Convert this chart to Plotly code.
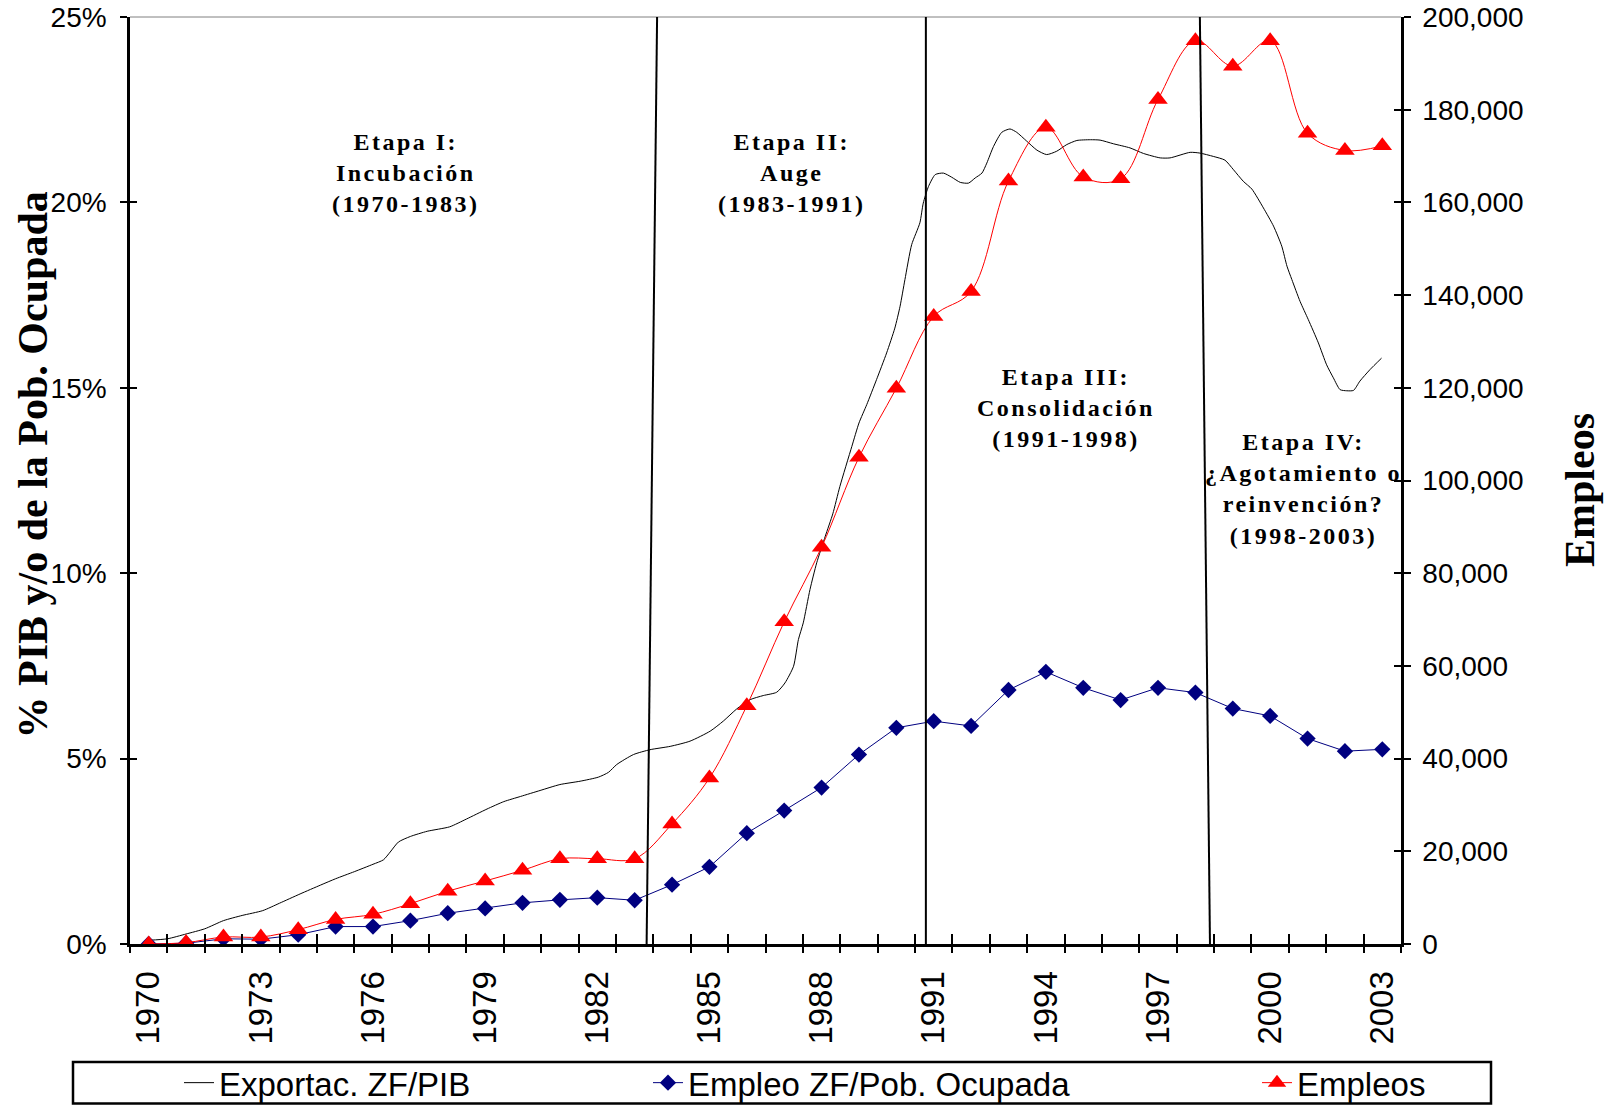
import plotly.graph_objects as go

# ---------------- data ----------------
YEARS = [1970, 1971, 1972, 1973, 1974, 1975, 1976, 1977, 1978, 1979,
         1980, 1981, 1982, 1983, 1984, 1985, 1986, 1987, 1988, 1989,
         1990, 1991, 1992, 1993, 1994, 1995, 1996, 1997, 1998, 1999,
         2000, 2001, 2002, 2003]
TICK_YEARS = [1970, 1973, 1976, 1979, 1982, 1985, 1988, 1991, 1994, 1997, 2000, 2003]

# Empleo ZF / Pob. Ocupada (%), left axis
EMPLEO_PCT = [0.00, 0.02, 0.14, 0.13, 0.25, 0.47, 0.47, 0.63, 0.83, 0.96,
              1.11, 1.19, 1.25, 1.18, 1.60, 2.08, 2.99, 3.60, 4.22, 5.11,
              5.83, 6.01, 5.88, 6.85, 7.34, 6.91, 6.58, 6.91, 6.78, 6.35,
              6.15, 5.54, 5.20, 5.25]

# Empleos (number of jobs), right axis
EMPLEOS = [0, 300, 1500, 1500, 3100, 5300, 6400, 8700, 11400, 13600,
           15900, 18400, 18400, 18400, 25900, 35800, 51400, 69500, 85600, 105000,
           119900, 135400, 140800, 164600, 176200, 165500, 165100, 182200, 194900, 189400,
           194900, 174900, 171200, 172200]

# Exportac. ZF / PIB (%) (time in years)
EXPORT_T = [1970.00, 1970.50, 1971.00, 1971.50, 1972.00, 1972.50, 1973.05, 1973.50, 1974.05, 1974.60,
            1975.00, 1975.50, 1976.00, 1976.28, 1976.46, 1976.68, 1977.00, 1977.45, 1978.05, 1978.50,
            1979.05, 1979.50, 1979.95, 1980.47, 1981.00, 1981.54, 1982.03, 1982.30, 1982.52, 1982.97,
            1983.41, 1983.95, 1984.48, 1985.02, 1985.37, 1985.73, 1986.09, 1986.44, 1986.80, 1987.02,
            1987.25, 1987.38, 1987.51, 1987.69, 1987.87, 1988.10, 1988.30, 1988.49, 1988.81, 1989.00,
            1989.21, 1989.47, 1989.74, 1989.96, 1990.10, 1990.23, 1990.41, 1990.63, 1990.72, 1990.86,
            1991.04, 1991.26, 1991.48, 1991.71, 1991.93, 1992.11, 1992.29, 1992.42, 1992.60, 1992.82,
            1993.04, 1993.22, 1993.49, 1993.76, 1994.02, 1994.29, 1994.56, 1994.83, 1995.19, 1995.45,
            1995.81, 1996.25, 1996.61, 1997.06, 1997.32, 1997.86, 1998.12, 1998.48, 1998.79, 1999.02,
            1999.28, 1999.51, 1999.82, 2000.09, 2000.31, 2000.45, 2000.58, 2000.80, 2001.02, 2001.29,
            2001.51, 2001.69, 2001.87, 2002.05, 2002.23, 2002.40, 2002.67, 2002.98]
EXPORT_PCT = [0.10, 0.14, 0.27, 0.41, 0.63, 0.77, 0.90, 1.10, 1.35, 1.59,
              1.76, 1.95, 2.15, 2.27, 2.48, 2.75, 2.90, 3.04, 3.16, 3.37,
              3.64, 3.84, 3.98, 4.14, 4.30, 4.39, 4.50, 4.63, 4.84, 5.11,
              5.24, 5.33, 5.47, 5.74, 6.01, 6.34, 6.59, 6.70, 6.79, 7.04,
              7.49, 8.21, 8.66, 9.56, 10.28, 11.00, 11.60, 12.34, 13.42, 14.05,
              14.55, 15.22, 15.94, 16.61, 17.20, 17.92, 18.86, 19.45, 19.98, 20.43,
              20.75, 20.79, 20.68, 20.54, 20.52, 20.66, 20.79, 21.06, 21.51, 21.89,
              21.98, 21.89, 21.65, 21.41, 21.29, 21.38, 21.56, 21.67, 21.69, 21.68,
              21.58, 21.47, 21.32, 21.20, 21.20, 21.35, 21.33, 21.24, 21.14, 20.88,
              20.57, 20.36, 19.85, 19.36, 18.82, 18.28, 17.92, 17.33, 16.84, 16.21,
              15.62, 15.27, 14.95, 14.92, 14.93, 15.18, 15.49, 15.80]

SERIES_NAMES = ["Exportac. ZF/PIB", "Empleo ZF/Pob. Ocupada", "Empleos"]

PCT_TICKS = [0, 5, 10, 15, 20, 25]
EMP_TICKS = [0, 20000, 40000, 60000, 80000, 100000, 120000, 140000, 160000, 180000, 200000]

STAGE_TEXT = [
    ["Etapa I:", "Incubación", "(1970-1983)"],
    ["Etapa II:", "Auge", "(1983-1991)"],
    ["Etapa III:", "Consolidación", "(1991-1998)"],
    ["Etapa IV:", "¿Agotamiento o", "reinvención?", "(1998-2003)"],
]
STAGE_X = [1976.86, 1987.20, 1994.55, 2000.90]
STAGE_Y = [20.78, 20.78, 14.46, 12.28]
# stage divider lines: (year at top, year at bottom)
DIVIDERS = [(1983.60, 1983.32), (1990.79, 1990.79), (1998.12, 1998.39)]

LEFT_TITLE = "% PIB y/o de la Pob. Ocupada"
RIGHT_TITLE = "Empleos"

# ---------------- layout geometry ----------------
W, H = 1608, 1106
ML, MR, MT, MB = 130, 207, 17, 162
PW, PH = W - ML - MR, H - MT - MB


def px(xp):
    return (xp - ML) / PW


def py(yp):
    return (H - MB - yp) / PH


SANS = "Liberation Sans, Arial, sans-serif"
SERIF = "Liberation Serif, Times New Roman, serif"
BOUNDS = [y - 0.5 for y in YEARS] + [YEARS[-1] + 0.5]

fig = go.Figure()

fig.add_trace(go.Scatter(
    x=EXPORT_T, y=EXPORT_PCT, name=SERIES_NAMES[0], mode="lines",
    line=dict(color="black", width=1, shape="spline", smoothing=0.6),
    legend="legend", yaxis="y", showlegend=True))

fig.add_trace(go.Scatter(
    x=YEARS, y=EMPLEO_PCT, name=SERIES_NAMES[1], mode="lines+markers",
    line=dict(color="#000080", width=1),
    marker=dict(symbol="diamond", size=12.5, color="#000080"),
    legend="legend2", yaxis="y", showlegend=True))

fig.add_trace(go.Scatter(
    x=YEARS, y=EMPLEOS, name=SERIES_NAMES[2], mode="lines+markers",
    line=dict(color="#FF0000", width=1, shape="spline", smoothing=1.0),
    marker=dict(symbol="triangle-up", size=17, color="#FF0000"),
    legend="legend3", yaxis="y2", showlegend=True))

# helper traces so that the overlay axes (inner halves of the cross ticks) are drawn
fig.add_trace(go.Scatter(x=[], y=[], xaxis="x2", yaxis="y3", showlegend=False, hoverinfo="skip"))
fig.add_trace(go.Scatter(x=[], y=[], xaxis="x", yaxis="y4", showlegend=False, hoverinfo="skip"))

xr = [YEARS[0] - 0.5, YEARS[-1] + 0.5]
legend_common = dict(xanchor="left", yanchor="middle", bgcolor="rgba(0,0,0,0)", borderwidth=0,
                     font=dict(family=SANS, size=33, color="black"))

fig.update_layout(
    width=W, height=H,
    margin=dict(l=ML, r=MR, t=MT, b=MB, pad=0, autoexpand=False),
    paper_bgcolor="white", plot_bgcolor="white",
    showlegend=True,
    font=dict(family=SANS, color="black"),
    xaxis=dict(
        range=xr, tickmode="array", tickvals=TICK_YEARS, ticktext=[str(v) for v in TICK_YEARS],
        tickangle=-90, ticks="", showline=True, linecolor="black", linewidth=3,
        showgrid=False, zeroline=False, tickfont=dict(family=SANS, size=33, color="black"),
        ticklabelstandoff=11, automargin=False,
        minor=dict(ticks="outside", tickmode="array", tickvals=BOUNDS, ticklen=6,
                   tickwidth=2, tickcolor="black", showgrid=False),
    ),
    xaxis2=dict(
        range=xr, overlaying="x", anchor="y", side="bottom", tickmode="array", tickvals=BOUNDS,
        ticks="inside", ticklen=10, tickwidth=2, tickcolor="black", showticklabels=False,
        showline=False, showgrid=False, zeroline=False,
    ),
    yaxis=dict(
        range=[0, 25], tickmode="array", tickvals=PCT_TICKS, ticktext=[f"{v}%" for v in PCT_TICKS],
        ticks="outside", ticklen=7, tickwidth=2, tickcolor="black",
        showline=True, linecolor="black", linewidth=2.5, showgrid=False, zeroline=False,
        tickfont=dict(family=SANS, size=28, color="black"), ticklabelstandoff=8, automargin=False,
    ),
    yaxis2=dict(
        range=[0, 200000], overlaying="y", side="right", anchor="x", tickmode="array",
        tickvals=EMP_TICKS, ticktext=[f"{v:,}" for v in EMP_TICKS],
        ticks="outside", ticklen=7, tickwidth=2, tickcolor="black",
        showline=True, linecolor="black", linewidth=2.5, showgrid=False, zeroline=False,
        tickfont=dict(family=SANS, size=28, color="black"), ticklabelstandoff=6, automargin=False,
    ),
    yaxis3=dict(
        range=[0, 25], overlaying="y", side="left", anchor="x", tickmode="array", tickvals=PCT_TICKS,
        ticks="inside", ticklen=7, tickwidth=2, tickcolor="black", showticklabels=False,
        showline=False, showgrid=False, zeroline=False,
    ),
    yaxis4=dict(
        range=[0, 200000], overlaying="y", side="right", anchor="x", tickmode="array", tickvals=EMP_TICKS,
        ticks="inside", ticklen=7, tickwidth=2, tickcolor="black", showticklabels=False,
        showline=False, showgrid=False, zeroline=False,
    ),
    legend=dict(x=px(179), y=py(1082.7), **legend_common),
    legend2=dict(x=px(648), y=py(1082.7), **legend_common),
    legend3=dict(x=px(1257), y=py(1082.7), **legend_common),
    hovermode=False,
)

shapes = []
# thin gray top border of the plot area
shapes.append(dict(type="line", xref="paper", yref="paper", x0=0, x1=1, y0=1, y1=1,
                   line=dict(color="#808080", width=1)))
# stage divider lines
for xt, xb in DIVIDERS:
    shapes.append(dict(type="line", xref="x", yref="y", x0=xb, y0=0, x1=xt, y1=25,
                       line=dict(color="black", width=2), layer="above"))
# legend frame
shapes.append(dict(type="rect", xref="paper", yref="paper",
                   x0=px(73), x1=px(1491), y0=py(1103.5), y1=py(1062),
                   line=dict(color="black", width=2.5), fillcolor="rgba(0,0,0,0)"))
fig.update_layout(shapes=shapes)

annotations = []
for lines, sx, sy in zip(STAGE_TEXT, STAGE_X, STAGE_Y):
    txt = "<br>".join(f"<span style='letter-spacing:2.5px'>{t}</span>" for t in lines)
    annotations.append(dict(text=f"<b>{txt}</b>", x=sx, y=sy, xref="x", yref="y",
                            showarrow=False, align="center", xanchor="center", yanchor="middle",
                            font=dict(family=SERIF, size=24, color="black")))
annotations.append(dict(text=f"<b>{LEFT_TITLE}</b>", textangle=-90, x=px(32), y=py(741),
                        xref="paper", yref="paper", xanchor="center", yanchor="bottom",
                        showarrow=False, font=dict(family=SERIF, size=42, color="black")))
annotations.append(dict(text=f"<b>{RIGHT_TITLE}</b>", textangle=-90, x=px(1580), y=py(490),
                        xref="paper", yref="paper", xanchor="center", yanchor="middle",
                        showarrow=False, font=dict(family=SERIF, size=42, color="black")))
fig.update_layout(annotations=annotations)

fig.write_html("out.html", config={"displayModeBar": False},
               post_script="document.body.style.margin='0';document.body.style.overflow='hidden';")
